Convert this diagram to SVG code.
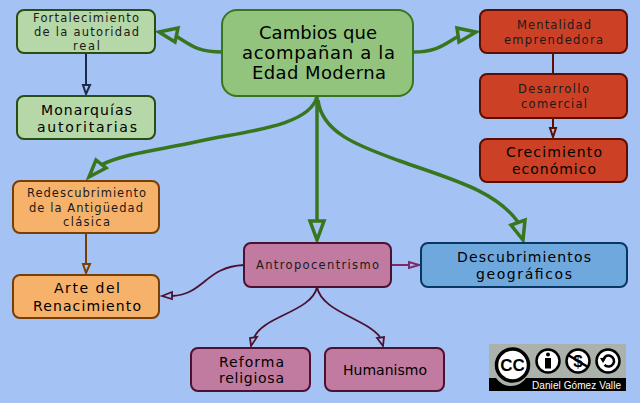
<svg xmlns="http://www.w3.org/2000/svg" width="640" height="403" viewBox="0 0 640 403">
<style>
text{font-family:"DejaVu Sans","Liberation Sans",sans-serif;fill:#000}
.s{font-size:11.5px;fill:#1a1a1a}
.m{font-size:14px}
.l{font-size:18px}
rect.n{stroke-width:2}
.lg{fill:#b6d7a8;stroke:#274e13}
.rt{fill:#93c47d;stroke:#38761d}
.rd{fill:#cc4125;stroke:#5b0f00}
.or{fill:#f6b26b;stroke:#783f04}
.pu{fill:#c27ba0;stroke:#4c1130}
.bl{fill:#6fa8dc;stroke:#073763}
.c{fill:none;stroke-linecap:butt}
.g{stroke:#38761d;stroke-width:3.5}
.h{fill:#a4c2f4;stroke-linejoin:miter}
.hg{stroke:#38761d;stroke-width:3.5}
.k{stroke:#1c2b4a;stroke-width:2}
.dr{stroke:#5b0f00;stroke-width:2}
.br{stroke:#783f04;stroke-width:2}
.mr{stroke:#4c1130;stroke-width:1.8}
.mg{stroke:#7d2a68;stroke-width:2}
</style>
<rect width="640" height="403" fill="#a4c2f4"/>
<g id="connectors">
<path class="c g" d="M222,52 C198,52 192,46 176,36"/>
<polygon class="h hg" points="159,32 178,28 175,42"/>
<path class="c g" d="M413,52 C438,52 444,44 459,36"/>
<polygon class="h hg" points="476,32 457,28 459,42"/>
<path class="c g" d="M317,96 C311,127 240,132 200,141 C160,150 125,153 101,165"/>
<polygon class="h hg" points="89,177 96,160 106,168"/>
<path class="c g" d="M317,96 V221"/>
<polygon class="h hg" points="317,240 310,221 324,221"/>
<path class="c g" d="M318,100 C322,135 365,148 400,161 C450,179 495,190 518,222"/>
<polygon class="h hg" points="523,240 511,225 525,220"/>
<path class="c k" d="M86,53 V85"/>
<polygon class="h k" points="86,94 83,85 90,85"/>
<path class="c dr" d="M553,53 V74"/>
<path class="c dr" d="M553,118 V128"/>
<polygon class="h dr" points="553,137 550,128 556,128"/>
<path class="c br" d="M86,233 V264"/>
<polygon class="h br" points="86,273 83,264 90,264"/>
<path class="c mr" d="M244,265 C205,267 205,294 172,296"/>
<polygon class="h mr" points="162,296 172,292 172,299"/>
<path class="c mg" d="M391,265 H409"/>
<polygon class="h mg" points="419,265 409,262 409,268"/>
<path class="c mr" d="M317,287 C312,312 262,316 254,338"/>
<polygon class="h mr" points="251,346 250,338 257,337"/>
<path class="c mr" d="M317,287 C322,312 365,318 380,337"/>
<polygon class="h mr" points="383,346 377,338 384,337"/>
</g>
<g id="root"><rect class="n rt" x="222" y="10" width="191" height="86" rx="15"/>
<text class="l" x="259" y="39" textLength="118">Cambios que</text>
<text class="l" x="242" y="59" textLength="153">acompañan a la</text>
<text class="l" x="252" y="79" textLength="134">Edad Moderna</text></g>
<g id="fortalecimiento"><rect class="n lg" x="17" y="10" width="138" height="43" rx="7"/>
<text class="s" x="33" y="21.5" textLength="106">Fortalecimiento</text>
<text class="s" x="34" y="36" textLength="105">de la autoridad</text>
<text class="s" x="73" y="50" textLength="27">real</text></g>
<g id="monarquias"><rect class="n lg" x="17" y="96" width="138" height="43" rx="7"/>
<text class="m" x="41" y="115" textLength="91">Monarquías</text>
<text class="m" x="37" y="131.5" textLength="100">autoritarias</text></g>
<g id="mentalidad"><rect class="n rd" x="480" y="10" width="147" height="43" rx="7"/>
<text class="s" x="517" y="29" textLength="74">Mentalidad</text>
<text class="s" x="504" y="43.5" textLength="99">emprendedora</text></g>
<g id="desarrollo"><rect class="n rd" x="480" y="74" width="147" height="44" rx="7"/>
<text class="s" x="518" y="93" textLength="71">Desarrollo</text>
<text class="s" x="521" y="107.7" textLength="66">comercial</text></g>
<g id="crecimiento"><rect class="n rd" x="480" y="139" width="147" height="43" rx="7"/>
<text class="m" x="506" y="157" textLength="96">Crecimiento</text>
<text class="m" x="512" y="174" textLength="84">económico</text></g>
<g id="redescubrimiento"><rect class="n or" x="13" y="181" width="146" height="52" rx="7"/>
<text class="s" x="27" y="197" textLength="119">Redescubrimiento</text>
<text class="s" x="29" y="211.7" textLength="114">de la Antigüedad</text>
<text class="s" x="63" y="226" textLength="47">clásica</text></g>
<g id="arte"><rect class="n or" x="13" y="275" width="146" height="43" rx="7"/>
<text class="m" x="54" y="293" textLength="66">Arte del</text>
<text class="m" x="33" y="310.7" textLength="108">Renacimiento</text></g>
<g id="antropocentrismo"><rect class="n pu" x="244" y="243" width="147" height="44" rx="7"/>
<text class="s" x="256" y="269" textLength="123">Antropocentrismo</text></g>
<g id="descubrimientos"><rect class="n bl" x="421" y="243" width="206" height="44" rx="7"/>
<text class="m" x="457" y="262" textLength="134">Descubrimientos</text>
<text class="m" x="476" y="279" textLength="96">geográficos</text></g>
<g id="reforma"><rect class="n pu" x="191" y="348" width="119" height="43" rx="7"/>
<text class="m" x="219" y="366.7" textLength="65">Reforma</text>
<text class="m" x="219" y="382.7" textLength="65">religiosa</text></g>
<g id="humanismo"><rect class="n pu" x="325" y="348" width="119" height="43" rx="7"/>
<text class="m" x="343" y="375" textLength="84">Humanismo</text></g>
<g id="cc-badge">
<rect x="489" y="344" width="137" height="47" fill="#aab2ab"/>
<rect x="489" y="378" width="137" height="13" fill="#000"/>
<path d="M496,378 a18,18 0 0 0 30,0 z" fill="#aab2ab"/>
<circle cx="512.500" cy="365" r="16" fill="#fff" stroke="#000" stroke-width="3.500"/>
<text x="512.500" y="371" text-anchor="middle" font-size="17" font-weight="700" style="font-family:'Liberation Sans',sans-serif">CC</text>
<circle cx="548" cy="361" r="11.500" fill="#fff" stroke="#000" stroke-width="2.500"/>
<circle cx="548" cy="354.500" r="2" fill="#000"/>
<rect x="545" y="358" width="6" height="10.500" fill="#000"/>
<circle cx="578" cy="361" r="11.500" fill="#fff" stroke="#000" stroke-width="2.500"/>
<text x="578" y="367" text-anchor="middle" font-size="17" font-weight="700" style="font-family:'Liberation Sans',sans-serif">$</text>
<path d="M568,355 L588,367" stroke="#000" stroke-width="2.500"/>
<circle cx="608" cy="361" r="11.500" fill="#fff" stroke="#000" stroke-width="2.500"/>
<path d="M603,361 a5.500,5.500 0 1 1 1.500,3.800" fill="none" stroke="#000" stroke-width="2.500"/>
<polygon points="600,358 606,358 603,363" fill="#000"/>
<text x="532" y="389" textLength="89" font-size="10" style="font-family:'Liberation Sans',sans-serif;fill:#fff">Daniel Gómez Valle</text>
</g>
</svg>
